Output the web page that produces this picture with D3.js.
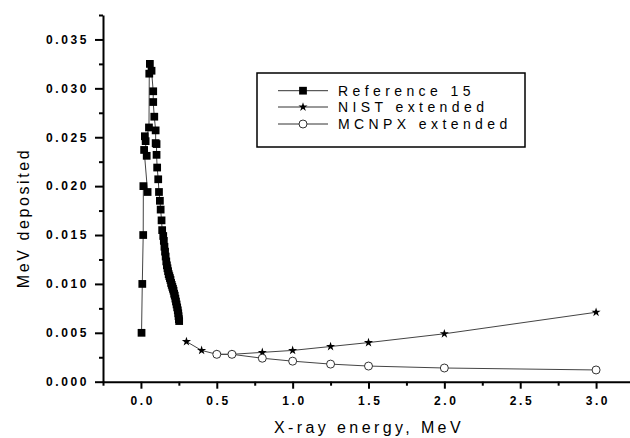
<!DOCTYPE html>
<html>
<head>
<meta charset="utf-8">
<script src="https://cdn.jsdelivr.net/npm/d3@7"></script>
<style>
body { margin: 0; background: #fff; }
svg { display: block; font-family: "Liberation Sans", Arial, sans-serif; }
.tickLabel { font-size: 12px; font-weight: bold; letter-spacing: 2.6px; fill: #000; }
.axisTitle { font-size: 16px; letter-spacing: 3.4px; fill: #000; }
.legendKey { font-size: 14px; letter-spacing: 4.4px; fill: #000; }
.series { fill: none; stroke: #444; stroke-width: 1px; }
</style>
</head>
<body>
<script>
const width = 630;
const height = 438;

// Reference 15 (squares)
const refEnergy = [0.004, 0.009, 0.015, 0.016, 0.044, 0.021, 0.038, 0.026, 0.031, 0.053,
  0.055, 0.059, 0.070, 0.081, 0.081, 0.088, 0.097, 0.097, 0.103, 0.103,
  0.107, 0.114, 0.119, 0.125, 0.130, 0.136, 0.140, 0.147,
  0.151, 0.155, 0.159, 0.163, 0.167, 0.171, 0.175, 0.179, 0.183, 0.187,
  0.191, 0.195, 0.199, 0.203, 0.207, 0.211, 0.215, 0.219, 0.223, 0.227,
  0.231, 0.235, 0.239, 0.243, 0.246, 0.248, 0.250, 0.252];
const refValue = [0.0050, 0.0100, 0.0150, 0.0200, 0.0194, 0.0237, 0.0231, 0.0251, 0.0246, 0.0260,
  0.0315, 0.0325, 0.0318, 0.0297, 0.0286, 0.0271, 0.0257, 0.0244, 0.0243, 0.0232,
  0.0219, 0.0207, 0.0194, 0.0185, 0.0176, 0.0165, 0.0155, 0.0149,
  0.0144, 0.0138, 0.0133, 0.0128, 0.0123, 0.0119, 0.0116, 0.0113, 0.0110, 0.0108,
  0.0106, 0.0104, 0.0101, 0.0099, 0.0097, 0.0095, 0.0093, 0.0090, 0.0088, 0.0085,
  0.0082, 0.0079, 0.0076, 0.0073, 0.0070, 0.0067, 0.0064, 0.0062];

// NIST extended (stars)
const nistEnergy = [0.3, 0.4, 0.5, 0.6, 0.8, 1.0, 1.25, 1.5, 2.0, 3.0];
const nistValue = [0.0041, 0.0032, 0.0028, 0.0028, 0.0030, 0.0032, 0.0036, 0.0040, 0.0049, 0.0071];

// MCNPX extended (open circles)
const mcnpxEnergy = [0.5, 0.6, 0.8, 1.0, 1.25, 1.5, 2.0, 3.0];
const mcnpxValue = [0.0028, 0.0028, 0.0024, 0.0021, 0.0018, 0.0016, 0.0014, 0.0012];

const xTicks = [0.0, 0.5, 1.0, 1.5, 2.0, 2.5, 3.0];
const xMinorTicks = [-0.25, 0.25, 0.75, 1.25, 1.75, 2.25, 2.75, 3.25];
const yTicks = [0.000, 0.005, 0.010, 0.015, 0.020, 0.025, 0.030, 0.035];
const yMinorTicks = [0.0025, 0.0075, 0.0125, 0.0175, 0.0225, 0.0275, 0.0325, 0.0375];

const legendLabels = ["Reference 15", "NIST extended", "MCNPX extended"];

let x = d3.scaleLinear([-0.25, 3.25], [103, 634]);
let y = d3.scaleLinear([0, 0.0375], [381.7, 15]);

let svg = d3.select("body")
  .append("svg")
  .attr("width", width)
  .attr("height", height);

// minor ticks first, major axis on top
svg.append("g")
  .attr("transform", "translate(103,0)")
  .call(d3.axisLeft(y).tickValues(yMinorTicks).tickSize(4).tickFormat(""))
  .call(g => g.select(".domain").remove())
  .selectAll("line").attr("stroke-width", 2);

svg.append("g")
  .attr("transform", "translate(0,381.7)")
  .call(d3.axisBottom(x).tickValues(xMinorTicks).tickSize(4).tickFormat(""))
  .call(g => g.select(".domain").remove())
  .selectAll("line").attr("stroke-width", 2);

let yAxis = svg.append("g")
  .attr("transform", "translate(103,0)")
  .call(d3.axisLeft(y).tickValues(yTicks).tickSize(8).tickSizeOuter(0).tickPadding(6).tickFormat(d3.format(".3f")));
yAxis.select(".domain").attr("stroke-width", 2);
yAxis.selectAll(".tick line").attr("stroke-width", 2);
yAxis.selectAll(".tick text").attr("class", "tickLabel").attr("font-size", null).attr("font-family", null);

let xAxis = svg.append("g")
  .attr("transform", "translate(0,381.7)")
  .call(d3.axisBottom(x).tickValues(xTicks).tickSize(7).tickSizeOuter(0).tickPadding(8).tickFormat(d3.format(".1f")));
xAxis.select(".domain").attr("stroke-width", 2);
xAxis.selectAll(".tick line").attr("stroke-width", 2);
xAxis.selectAll(".tick text").attr("class", "tickLabel").attr("dx", "1.3px").attr("font-size", null).attr("font-family", null);

// axis titles
svg.append("text")
  .attr("class", "axisTitle")
  .attr("x", 369)
  .attr("y", 433)
  .attr("text-anchor", "middle")
  .text("X-ray energy, MeV");

svg.append("text")
  .attr("class", "axisTitle")
  .attr("transform", "translate(29,218)rotate(-90)")
  .attr("text-anchor", "middle")
  .style("letter-spacing", "2.6px")
  .text("MeV deposited");

// series
let line = d3.line().x(d => x(d[0])).y(d => y(d[1]));
let refData = d3.zip(refEnergy, refValue);
let nistData = d3.zip(nistEnergy, nistValue);
let mcnpxData = d3.zip(mcnpxEnergy, mcnpxValue);

let square = d3.symbol(d3.symbolSquare, 60);
let star = d3.symbol(d3.symbolStar, 26);

svg.append("path").datum(refData).attr("class", "series").attr("d", line);
svg.selectAll("path.refMark")
  .data(refData)
  .enter().append("path")
  .attr("class", "refMark")
  .attr("transform", d => "translate(" + x(d[0]) + "," + y(d[1]) + ")")
  .attr("d", square)
  .attr("fill", "#000");

svg.append("path").datum(nistData).attr("class", "series").attr("d", line);
svg.selectAll("path.nistMark")
  .data(nistData)
  .enter().append("path")
  .attr("class", "nistMark")
  .attr("transform", d => "translate(" + x(d[0]) + "," + y(d[1]) + ")")
  .attr("d", star)
  .attr("fill", "#000");

svg.append("path").datum(mcnpxData).attr("class", "series").attr("d", line);
svg.selectAll("circle.mcnpxMark")
  .data(mcnpxData)
  .enter().append("circle")
  .attr("class", "mcnpxMark")
  .attr("cx", d => x(d[0]))
  .attr("cy", d => y(d[1]))
  .attr("r", 4)
  .attr("fill", "#fff")
  .attr("stroke", "#333")
  .attr("stroke-width", 1);

// legend
let legend = svg.append("g").attr("class", "legend");
legend.append("rect")
  .attr("x", 257)
  .attr("y", 73)
  .attr("width", 268)
  .attr("height", 74)
  .attr("fill", "#fff")
  .attr("stroke", "#000")
  .attr("stroke-width", 1.5);

let rows = legend.selectAll("g.row")
  .data(legendLabels)
  .enter().append("g")
  .attr("class", "row")
  .attr("transform", (d, i) => "translate(0," + [90.7, 107, 124][i] + ")");

rows.append("line")
  .attr("x1", 278).attr("x2", 328)
  .attr("stroke", "#333").attr("stroke-width", 1);

rows.each(function (d, i) {
  let r = d3.select(this);
  if (i === 0) r.append("path").attr("transform", "translate(303,0)").attr("d", square).attr("fill", "#000");
  if (i === 1) r.append("path").attr("transform", "translate(303,0)").attr("d", star).attr("fill", "#000");
  if (i === 2) r.append("circle").attr("cx", 303).attr("r", 4).attr("fill", "#fff").attr("stroke", "#333");
});

rows.append("text")
  .attr("class", "legendKey")
  .attr("x", 338)
  .attr("y", 5)
  .text(d => d);
</script>
</body>
</html>
